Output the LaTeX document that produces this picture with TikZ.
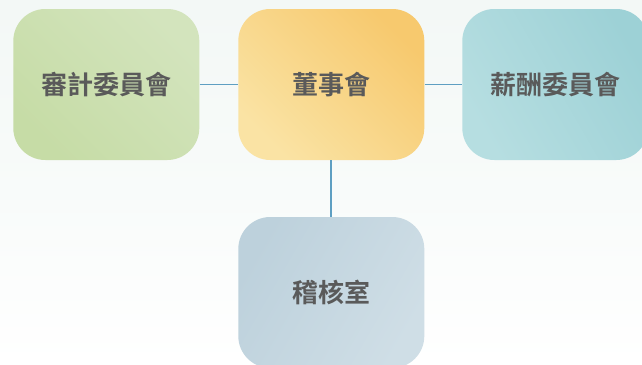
\documentclass[tikz,border=0pt]{standalone}
\usepackage{fontspec}
\newfontfamily\cjk{Noto Sans CJK TC}[BoldFont={Noto Sans CJK TC Bold}]
\definecolor{bgc}{HTML}{F3F8F6}
\definecolor{linec}{HTML}{5E9FC2}
\definecolor{txt}{HTML}{5A5A5A}
\definecolor{gA}{HTML}{C6DCA6}
\definecolor{gB}{HTML}{D3E4BD}
\definecolor{oA}{HTML}{F7C96E}
\definecolor{oB}{HTML}{FAE3A4}
\definecolor{tA}{HTML}{9DD1D6}
\definecolor{tB}{HTML}{B6DEE1}
\definecolor{bA}{HTML}{BDD1DC}
\definecolor{bB}{HTML}{CFDEE6}
\tikzset{
  orgbox/.style={rounded corners=32pt, minimum width=186pt, minimum height=151pt,
    inner sep=0pt, font=\cjk\bfseries\fontsize{26pt}{30pt}\selectfont, text=txt},
  link/.style={draw=linec, line width=1.8pt}
}
\begin{document}
\begin{tikzpicture}[x=1pt,y=-1pt]
\useasboundingbox (0,0) rectangle (642,364);
\shade[top color=bgc, bottom color=white, middle color=bgc!60!white] (0,0) rectangle (642,364);
\clip (0,0) rectangle (642,364);
\node[orgbox, shade, left color=gA, right color=gB, shading angle=135] (audit) at (106.3,84.5) {\raisebox{-1pt}{審計委員會}};
\node[orgbox, shade, left color=oA, right color=oB, shading angle=-45] (board) at (331.3,84.5) {\raisebox{-1pt}{董事會}};
\node[orgbox, shade, left color=tA, right color=tB, shading angle=-60] (comp) at (555.3,84.5) {\raisebox{-1pt}{薪酬委員會}};
\node[orgbox, shade, left color=bA, right color=bB, shading angle=60] (audit2) at (331.3,292.5) {\raisebox{-1pt}{稽核室}};
\draw[link] (audit.east) -- (board.west);
\draw[link] (board.east) -- (comp.west);
\draw[link] (board.south) -- (audit2.north);
\end{tikzpicture}
\end{document}
